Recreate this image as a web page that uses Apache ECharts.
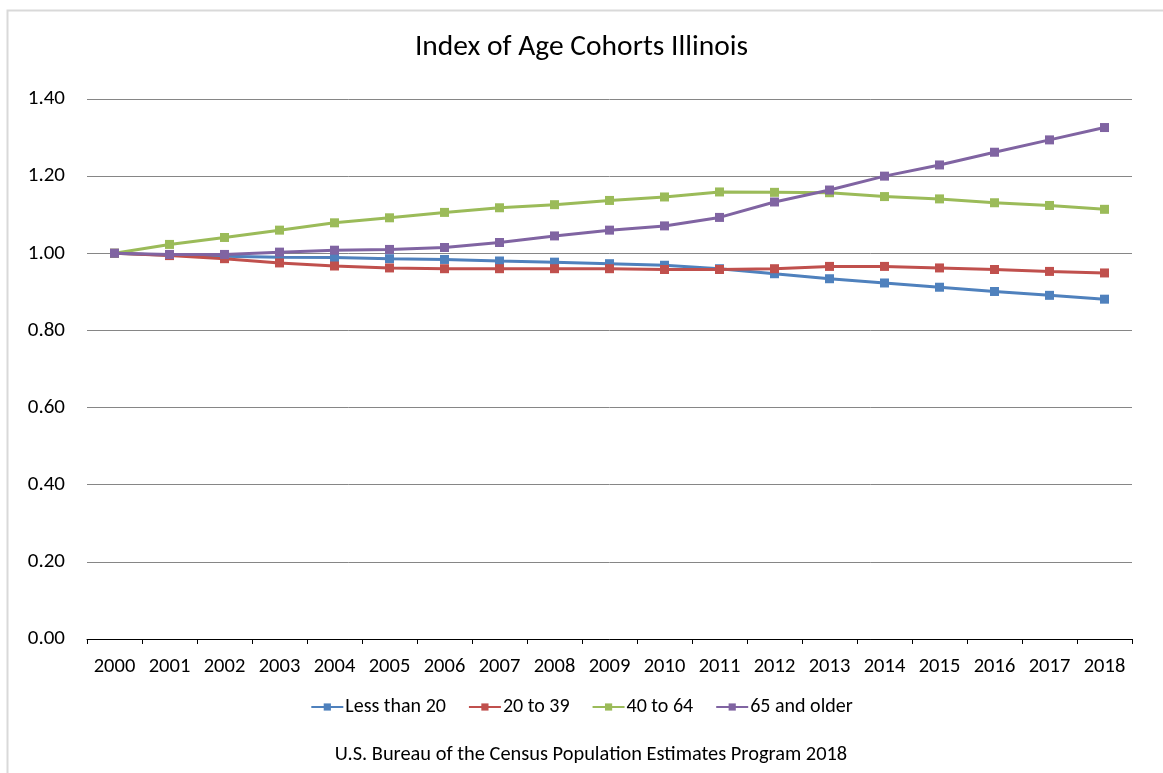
<!DOCTYPE html>
<html>
<head>
<meta charset="utf-8">
<script src="https://cdn.jsdelivr.net/npm/echarts@6/dist/echarts.min.js"></script>
<style>
html,body{margin:0;padding:0;background:#fff;}
#c{width:1163px;height:773px;}
</style>
</head>
<body>
<div id="c"></div>
<script>
var years = ['2000','2001','2002','2003','2004','2005','2006','2007','2008','2009','2010','2011','2012','2013','2014','2015','2016','2017','2018'];
var lessThan20 = [1.000,0.995,0.992,0.990,0.989,0.986,0.984,0.980,0.977,0.973,0.969,0.960,0.947,0.934,0.923,0.912,0.901,0.891,0.881];
var age20to39  = [1.000,0.994,0.986,0.975,0.967,0.962,0.960,0.960,0.960,0.960,0.958,0.958,0.960,0.966,0.966,0.962,0.958,0.953,0.949];
var age40to64  = [1.000,1.023,1.041,1.060,1.079,1.092,1.106,1.118,1.126,1.137,1.146,1.159,1.158,1.157,1.147,1.141,1.131,1.124,1.114];
var age65plus  = [1.000,0.997,0.997,1.003,1.008,1.010,1.015,1.028,1.045,1.060,1.071,1.093,1.133,1.164,1.200,1.229,1.262,1.294,1.326];
var seriesNames = ['Less than 20','20 to 39','40 to 64','65 and older'];
var colors = ['#4F81BD','#C0504D','#9BBB59','#8064A2'];
var font = 'Carlito, "Open Sans", "Liberation Sans", sans-serif';

var chart = echarts.init(document.getElementById('c'));
function mk(name, data, color){
  return {
    name: name, type: 'line', data: data,
    symbol: 'rect', symbolSize: 9,
    lineStyle: {color: color, width: 3},
    itemStyle: {color: color},
    animation: false
  };
}
chart.setOption({
  backgroundColor: '#fff',
  animation: false,
  title: [{
    text: 'Index of Age Cohorts Illinois',
    left: 'center', top: 28,
    textStyle: {fontFamily: font, fontSize: 29.5, fontWeight: 'normal', color: '#000'}
  },{
    text: 'U.S. Bureau of the Census Population Estimates Program 2018',
    left: 586, textAlign: 'center', top: 740,
    textStyle: {fontFamily: font, fontSize: 20.4, fontWeight: 'normal', color: '#000'}
  }],
  graphic: [{
    type: 'polyline',
    shape: {points: [[7.5, 773], [7.5, 10.5], [1163, 10.5]]},
    style: {stroke: '#d9d9d9', lineWidth: 2, fill: null}
  }],
  legend: {
    data: seriesNames,
    top: 692, left: 'center',
    itemWidth: 32, itemHeight: 9, itemGap: 22,
    textStyle: {fontFamily: font, fontSize: 20, color: '#000', padding: [0,0,0,-3]}
  },
  grid: {left: 87, right: 31, top: 99, bottom: 134, containLabel: false},
  xAxis: {
    type: 'category', data: years, boundaryGap: true,
    axisLine: {lineStyle: {color: '#000', width: 1}},
    axisTick: {show: true, length: 5, interval: 0, lineStyle: {color: '#000'}},
    axisLabel: {fontFamily: font, fontSize: 20.5, color: '#000', margin: 17, interval: 0, hideOverlap: false}
  },
  yAxis: {
    type: 'value', min: 0, max: 1.4, interval: 0.2,
    axisLine: {show: false}, axisTick: {show: false},
    axisLabel: {fontFamily: font, fontSize: 21, color: '#000', margin: 22,
      formatter: function(v){ return v.toFixed(2); }},
    splitLine: {lineStyle: {color: '#868686', width: 1}}
  },
  series: [
    mk(seriesNames[0], lessThan20, colors[0]),
    mk(seriesNames[1], age20to39, colors[1]),
    mk(seriesNames[2], age40to64, colors[2]),
    mk(seriesNames[3], age65plus, colors[3])
  ]
});
</script>
</body>
</html>
